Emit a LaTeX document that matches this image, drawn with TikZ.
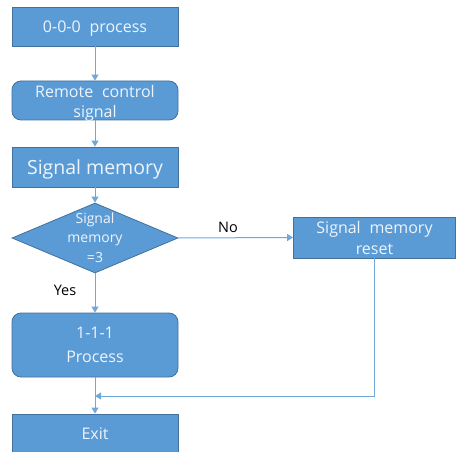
\documentclass[tikz,border=0pt]{standalone}
\usepackage{fontspec}
\setmainfont{Open Sans}
\usetikzlibrary{shapes.geometric,arrows.meta}
\definecolor{boxfill}{HTML}{5B9BD5}
\definecolor{boxline}{HTML}{41719C}
\definecolor{flow}{HTML}{6FA8DC}
\definecolor{boxtext}{HTML}{EEF4FB}
\newcommand{\wsp}{\hspace{0.55em}}
\tikzset{
  blk/.style={draw=boxline, line width=0.8pt, fill=boxfill, text=boxtext,
    minimum width=166pt, inner sep=0pt, align=center, text depth=0pt,
    font=\fontsize{16}{21}\selectfont},
  rblk/.style={blk, rounded corners=9pt},
  flowline/.style={draw=flow, line width=1pt, -{Triangle[length=6pt,width=7pt]}},
  lbl/.style={font=\fontsize{14.5}{17}\selectfont, text=black}
}
\begin{document}
\begin{tikzpicture}[x=1pt,y=-1pt]
\useasboundingbox (0,0) rectangle (456,452);
% main column
\node[blk, minimum height=39pt] (start) at (95,26.5) {0-0-0\wsp process};
\node[rblk, minimum height=39pt] (remote) at (95,100.5) {};
\node[text=boxtext, align=center, font=\fontsize{16}{20}\selectfont] (remotetxt) at (95,103.5) {Remote\wsp control\\signal};
\node[blk, minimum height=40pt, font=\fontsize{19.5}{22}\selectfont] (memory) at (95,167) {Signal memory};
\node[diamond, draw=boxline, line width=0.8pt, fill=boxfill, minimum width=166pt, minimum height=70pt, inner sep=0pt] (check) at (95,238) {};
\node[text=boxtext, align=center, font=\fontsize{14}{19.5}\selectfont] (checktxt) at (95,237.5) {Signal\\memory\\=3};
\node[rblk, minimum height=64pt, font=\fontsize{16}{24}\selectfont] (proc) at (95,345) {1-1-1\\Process};
\node[blk, minimum height=40pt] (exit) at (95,434) {Exit};
% side branch
\node[blk, minimum width=162pt, minimum height=41pt] (reset) at (374.5,237.5) {Signal\wsp memory\\reset};
\coordinate (merge) at (95,396);
% connectors
\draw[flowline] (start) -- (remote);
\draw[flowline] (remote) -- (memory);
\draw[flowline] (memory) -- (check);
\draw[flowline] (check.east) -- (reset.west);
\node[lbl] (nolbl) at (228,227) {No};
\draw[flowline] (check.south) -- (proc.north);
\node[lbl] (yeslbl) at (65,290) {Yes};
\draw[flowline] (proc) -- (exit);
\draw[flowline] (reset.south) |- (merge);
\end{tikzpicture}
\end{document}
